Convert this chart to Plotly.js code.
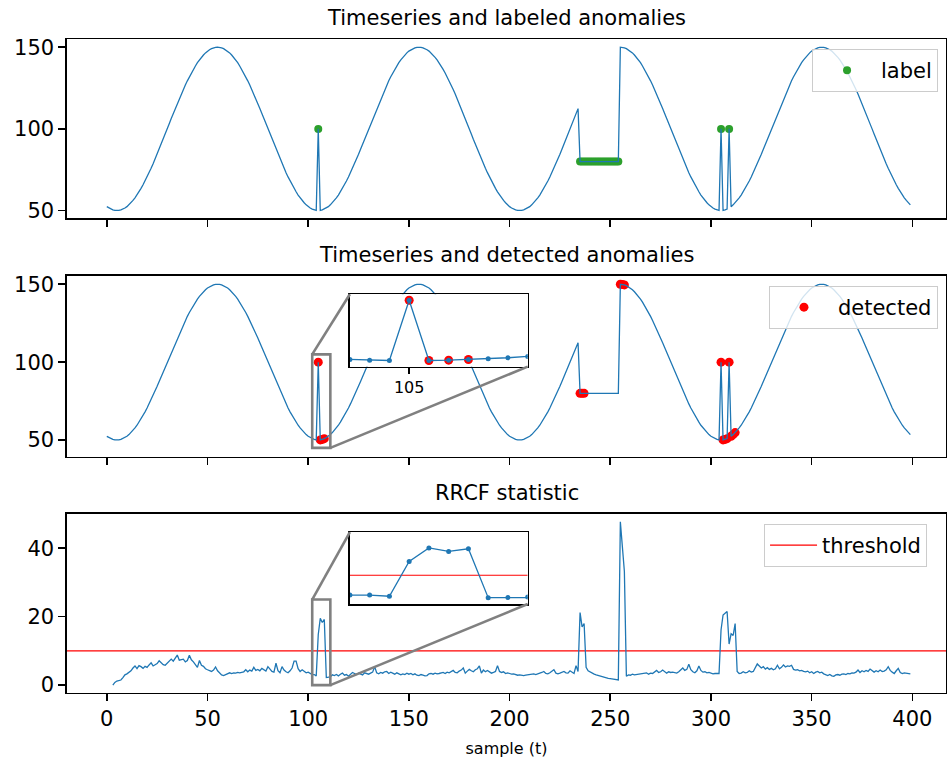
<!DOCTYPE html>
<html><head><meta charset="utf-8">
<script src="https://cdn.plot.ly/plotly-3.0.1.min.js"></script>
<style>html,body{margin:0;padding:0;background:#fff}#chart{width:947px;height:760px}</style>
</head><body><div id="chart"></div>
<script>
// ---------------- data ----------------
const series = [
52.4,51.6,50.9,50.4,50.1,50.0,50.1,50.4,50.9,51.6,
52.4,53.5,54.8,56.2,57.8,59.5,61.5,63.6,65.8,68.1,
70.6,73.2,75.9,78.7,81.6,84.5,87.6,90.6,93.7,96.9,
100.0,103.1,106.3,109.4,112.4,115.5,118.4,121.3,124.1,126.8,
129.4,131.9,134.2,136.4,138.5,140.5,142.2,143.8,145.2,146.5,
147.6,148.4,149.1,149.6,149.9,150.0,149.9,149.6,149.1,148.4,
147.6,146.5,145.2,143.8,142.2,140.5,138.5,136.4,134.2,131.9,
129.4,126.8,124.1,121.3,118.4,115.5,112.4,109.4,106.3,103.1,
100.0,96.9,93.7,90.6,87.6,84.5,81.6,78.7,75.9,73.2,
70.6,68.1,65.8,63.6,61.5,59.5,57.8,56.2,54.8,53.5,
52.4,51.6,50.9,50.4,50.1,100.0,50.1,50.4,50.9,51.6,
52.4,53.5,54.8,56.2,57.8,59.5,61.5,63.6,65.8,68.1,
70.6,73.2,75.9,78.7,81.6,84.5,87.6,90.6,93.7,96.9,
100.0,103.1,106.3,109.4,112.4,115.5,118.4,121.3,124.1,126.8,
129.4,131.9,134.2,136.4,138.5,140.5,142.2,143.8,145.2,146.5,
147.6,148.4,149.1,149.6,149.9,150.0,149.9,149.6,149.1,148.4,
147.6,146.5,145.2,143.8,142.2,140.5,138.5,136.4,134.2,131.9,
129.4,126.8,124.1,121.3,118.4,115.5,112.4,109.4,106.3,103.1,
100.0,96.9,93.7,90.6,87.6,84.5,81.6,78.7,75.9,73.2,
70.6,68.1,65.8,63.6,61.5,59.5,57.8,56.2,54.8,53.5,
52.4,51.6,50.9,50.4,50.1,50.0,50.1,50.4,50.9,51.6,
52.4,53.5,54.8,56.2,57.8,59.5,61.5,63.6,65.8,68.1,
70.6,73.2,75.9,78.7,81.6,84.5,87.6,90.6,93.7,96.9,
100.0,103.1,106.3,109.4,112.4,80.0,80.0,80.0,80.0,80.0,
80.0,80.0,80.0,80.0,80.0,80.0,80.0,80.0,80.0,80.0,
80.0,80.0,80.0,80.0,80.0,150.0,149.9,149.6,149.1,148.4,
147.6,146.5,145.2,143.8,142.2,140.5,138.5,136.4,134.2,131.9,
129.4,126.8,124.1,121.3,118.4,115.5,112.4,109.4,106.3,103.1,
100.0,96.9,93.7,90.6,87.6,84.5,81.6,78.7,75.9,73.2,
70.6,68.1,65.8,63.6,61.5,59.5,57.8,56.2,54.8,53.5,
52.4,51.6,50.9,50.4,50.1,100.0,50.1,50.4,50.9,100.0,
52.4,53.5,54.8,56.2,57.8,59.5,61.5,63.6,65.8,68.1,
70.6,73.2,75.9,78.7,81.6,84.5,87.6,90.6,93.7,96.9,
100.0,103.1,106.3,109.4,112.4,115.5,118.4,121.3,124.1,126.8,
129.4,131.9,134.2,136.4,138.5,140.5,142.2,143.8,145.2,146.5,
147.6,148.4,149.1,149.6,149.9,150.0,149.9,149.6,149.1,148.4,
147.6,146.5,145.2,143.8,142.2,140.5,138.5,136.4,134.2,131.9,
129.4,126.8,124.1,121.3,118.4,115.5,112.4,109.4,106.3,103.1,
100.0,96.9,93.7,90.6,87.6,84.5,81.6,78.7,75.9,73.2,
70.6,68.1,65.8,63.6,61.5,59.5,57.8,56.2,54.8,53.5
];

const rrcfStart = 3;
const rrcfValues = [
0.0,0.8,1.2,1.4,1.5,2.2,3.0,3.3,3.8,4.2,
5.0,5.6,4.8,5.7,5.4,4.9,5.5,5.2,5.9,6.5,
5.6,5.9,6.3,7.1,6.5,6.0,5.8,6.4,7.3,7.6,
7.0,7.8,8.8,7.3,7.5,7.6,6.8,7.2,8.7,7.4,
6.8,6.0,5.2,7.2,5.8,5.5,4.8,4.5,4.3,4.0,
4.4,5.3,4.2,3.6,3.0,2.8,3.0,3.3,3.6,3.4,
3.6,3.5,3.7,3.6,3.8,3.9,4.5,3.9,4.4,4.1,
5.2,4.3,4.6,4.2,4.9,4.4,4.1,5.4,4.7,4.0,
3.8,6.4,4.2,3.6,5.4,4.4,3.9,3.6,4.2,5.0,
7.0,7.0,4.8,4.0,4.5,4.0,3.6,3.8,3.5,3.1,
3.1,2.7,14.8,19.5,18.3,19.2,2.2,2.3,2.4,3.0,
2.8,3.1,2.7,3.2,3.5,2.9,3.1,2.6,3.3,3.7,
3.4,3.1,3.5,3.3,3.0,3.6,3.4,3.2,3.5,3.8,
5.4,3.6,3.3,3.7,3.5,3.9,4.0,3.4,3.8,3.5,
3.2,3.6,3.4,3.0,3.3,3.1,3.5,3.2,3.4,3.0,
3.3,2.9,2.8,3.1,2.9,2.7,2.8,3.3,3.4,3.2,
3.5,3.3,3.4,3.6,3.7,3.4,3.8,3.6,3.9,4.3,
3.7,3.6,4.1,4.4,5.0,3.5,4.1,4.6,4.2,3.9,
4.5,4.8,5.6,3.5,4.4,3.9,4.3,3.8,3.5,3.7,
4.0,5.7,4.0,3.7,3.9,3.4,3.6,3.4,3.2,3.3,
3.1,2.9,3.0,2.8,2.8,2.9,3.0,2.9,3.2,3.3,
3.1,3.4,3.5,3.7,4.0,3.4,3.3,3.6,4.0,4.5,
3.5,3.3,3.5,3.8,4.0,3.6,3.5,4.2,3.8,3.4,
5.7,4.0,21.2,17.0,18.0,5.2,4.2,3.8,3.4,3.2,
3.0,2.8,2.6,2.5,2.3,2.2,2.0,1.9,1.8,1.7,
1.6,1.5,47.7,40.4,33.2,2.6,3.0,2.9,3.2,3.0,
3.1,3.2,3.1,3.3,3.4,3.6,3.2,3.5,3.4,3.8,
4.3,3.7,3.9,4.4,3.8,3.5,3.9,3.7,3.8,3.6,
3.5,3.9,4.4,5.0,4.3,4.6,6.1,4.5,3.9,3.6,
4.2,5.6,4.3,3.8,3.9,3.6,3.7,3.5,3.3,3.4,
3.3,3.4,16.1,20.5,21.0,21.5,12.0,15.0,14.5,18.0,
4.0,3.4,3.5,3.9,3.6,3.7,4.2,3.8,4.0,4.9,
6.2,5.6,5.0,5.4,4.7,5.1,4.6,4.9,4.5,4.8,
5.8,4.8,5.2,5.9,5.3,5.6,5.5,5.8,4.6,4.4,
4.5,4.2,4.3,4.0,3.9,4.1,3.6,3.9,3.4,3.8,
4.0,3.6,3.8,3.3,3.0,2.8,3.1,2.7,2.6,3.0,
3.1,2.9,3.2,3.3,3.1,3.4,3.3,3.6,3.5,3.8,
4.4,3.7,4.2,3.9,4.3,4.0,4.7,4.1,3.8,4.2,
3.9,4.4,4.0,4.1,4.5,5.4,4.3,3.8,3.4,4.2,
4.9,3.7,3.4,3.6,3.5,3.4,3.3
];

const labeledIdx = [105,235,236,237,238,239,240,241,242,243,244,245,246,247,248,249,250,251,252,253,254,305,309];
const detectedIdx = [105,106,107,108,235,236,237,255,256,257,305,306,307,308,309,310,311,312];
const threshold = 10;

const xTickVals = [0,50,100,150,200,250,300,350,400];
const ySeriesTicks = [50,100,150];
const yRrcfTicks = [0,20,40];
const insetTickVals = [105];
const insetTickText = ['105'];
const panelTitles = ['Timeseries and labeled anomalies','Timeseries and detected anomalies','RRCF statistic'];
const legendNames = ['label','detected','threshold'];
const xTitle = 'sample (t)';

// ---------------- derived ----------------
const t = series.map((_, i) => i);
const rrcfT = rrcfValues.map((_, i) => i + rrcfStart);
const labelY = labeledIdx.map(i => series[i]);
const detectedY = detectedIdx.map(i => series[i]);

// ---------------- geometry / style ----------------
const FONT = 'DejaVu Sans';
const FS = 21;
const BLUE = '#1f77b4', GREEN = '#2ca02c', RED = '#ff0000', GRAY = '#808080';
const xRange = [-19.76, 416.7];
const yRanges = [[45.3, 154.8], [39.3, 155.3], [-2.2, 50]];
const yDomains = [[0.7259, 0.9995], [0.3613, 0.6376], [0.0005, 0.2737]];
const zoomX = [102, 111];
const zoomY2 = [45, 105];
const zoomY3 = [0, 25];
const insetBox2 = {x: [120.7, 209], y: [97.1, 143.6]};
const insetBox3 = {x: [120.7, 209], y: [23.7, 44.7]};

function px(x) { return (x - xRange[0]) / (xRange[1] - xRange[0]); }
function py(y, p) { const r = yRanges[p], d = yDomains[p]; return d[0] + (y - r[0]) / (r[1] - r[0]) * (d[1] - d[0]); }

const axisCommon = {
  showline: true, mirror: true, linecolor: '#000', linewidth: 1.6,
  ticks: 'outside', ticklen: 7, tickwidth: 1.6, tickcolor: '#000',
  showgrid: false, zeroline: false,
  tickfont: {family: FONT, size: FS, color: '#000'}
};

const LW = 1.3;
const traces = [
  // panel 1
  {x: labeledIdx, y: labelY, type: 'scatter', mode: 'markers', name: legendNames[0],
   marker: {color: GREEN, size: 8}, xaxis: 'x', yaxis: 'y', legend: 'legend'},
  {x: t, y: series, type: 'scatter', mode: 'lines', line: {color: BLUE, width: LW},
   showlegend: false, xaxis: 'x', yaxis: 'y'},
  // panel 2
  {x: detectedIdx, y: detectedY, type: 'scatter', mode: 'markers', name: legendNames[1],
   marker: {color: RED, size: 9}, xaxis: 'x2', yaxis: 'y2', legend: 'legend2'},
  {x: t, y: series, type: 'scatter', mode: 'lines', line: {color: BLUE, width: LW},
   showlegend: false, xaxis: 'x2', yaxis: 'y2'},
  // panel 3
  {x: xRange, y: [threshold, threshold], type: 'scatter', mode: 'lines', name: legendNames[2],
   line: {color: RED, width: 1.2}, xaxis: 'x3', yaxis: 'y3', legend: 'legend3'},
  {x: rrcfT, y: rrcfValues, type: 'scatter', mode: 'lines', line: {color: BLUE, width: LW},
   showlegend: false, xaxis: 'x3', yaxis: 'y3'},
  // inset in panel 2
  {x: detectedIdx, y: detectedY, type: 'scatter', mode: 'markers', marker: {color: RED, size: 9},
   showlegend: false, xaxis: 'x4', yaxis: 'y4'},
  {x: t, y: series, type: 'scatter', mode: 'lines+markers', line: {color: BLUE, width: LW},
   marker: {color: BLUE, size: 5}, showlegend: false, xaxis: 'x4', yaxis: 'y4'},
  // inset in panel 3
  {x: zoomX, y: [threshold, threshold], type: 'scatter', mode: 'lines', line: {color: RED, width: 1.2},
   showlegend: false, xaxis: 'x5', yaxis: 'y5'},
  {x: rrcfT, y: rrcfValues, type: 'scatter', mode: 'lines+markers', line: {color: BLUE, width: LW},
   marker: {color: BLUE, size: 5}, showlegend: false, xaxis: 'x5', yaxis: 'y5'}
];

function legendCfg(x, y, iw) {
  return {x: x, y: y, xanchor: 'left', yanchor: 'top', bgcolor: 'rgba(255,255,255,0.8)',
    bordercolor: '#cccccc', borderwidth: 1, font: {family: FONT, size: FS, color: '#000'},
    itemwidth: iw};
}

const shapes = [];
function addZoom(xa, ya, zy, box) {
  shapes.push({type: 'rect', xref: xa, yref: ya, x0: zoomX[0], x1: zoomX[1], y0: zy[0], y1: zy[1],
    line: {color: GRAY, width: 2.6}, fillcolor: 'rgba(0,0,0,0)', layer: 'above'});
  shapes.push({type: 'line', xref: xa, yref: ya, x0: zoomX[0], y0: zy[1], x1: box.x[0], y1: box.y[1],
    line: {color: GRAY, width: 2.6}, layer: 'above'});
  shapes.push({type: 'line', xref: xa, yref: ya, x0: zoomX[1], y0: zy[0], x1: box.x[1], y1: box.y[0],
    line: {color: GRAY, width: 2.6}, layer: 'above'});
}
addZoom('x2', 'y2', zoomY2, insetBox2);
addZoom('x3', 'y3', zoomY3, insetBox3);

const annotations = panelTitles.map((txt, i) => ({
  text: txt, xref: 'paper', yref: 'paper', x: 0.5, y: yDomains[i][1],
  xanchor: 'center', yanchor: 'bottom', yshift: 7, showarrow: false,
  font: {family: FONT, size: FS, color: '#000'}
}));

const insetAxis = {showline: true, mirror: true, linecolor: '#000', linewidth: 1.6,
  showgrid: false, zeroline: false};

const layout = {
  width: 947, height: 760,
  margin: {l: 67, r: 1, t: 39, b: 67},
  paper_bgcolor: '#fff', plot_bgcolor: '#fff',
  font: {family: FONT, color: '#000'},
  xaxis: Object.assign({}, axisCommon, {domain: [0, 1], range: xRange, anchor: 'y', tickvals: xTickVals, showticklabels: false}),
  yaxis: Object.assign({}, axisCommon, {domain: yDomains[0], range: yRanges[0], anchor: 'x', tickvals: ySeriesTicks}),
  xaxis2: Object.assign({}, axisCommon, {domain: [0, 1], range: xRange, anchor: 'y2', tickvals: xTickVals, showticklabels: false}),
  yaxis2: Object.assign({}, axisCommon, {domain: yDomains[1], range: yRanges[1], anchor: 'x2', tickvals: ySeriesTicks}),
  xaxis3: Object.assign({}, axisCommon, {domain: [0, 1], range: xRange, anchor: 'y3', tickvals: xTickVals,
    title: {text: xTitle, font: {family: FONT, size: 16, color: '#000'}, standoff: 12}}),
  yaxis3: Object.assign({}, axisCommon, {domain: yDomains[2], range: yRanges[2], anchor: 'x3', tickvals: yRrcfTicks}),
  xaxis4: Object.assign({}, insetAxis, {domain: [px(insetBox2.x[0]), px(insetBox2.x[1])], range: zoomX, anchor: 'y4',
    tickvals: insetTickVals, ticktext: insetTickText, ticks: 'outside', ticklen: 6, tickwidth: 1.6, tickcolor: '#000',
    tickfont: {family: FONT, size: 16, color: '#000'}}),
  yaxis4: Object.assign({}, insetAxis, {domain: [py(insetBox2.y[0], 1), py(insetBox2.y[1], 1)], range: zoomY2, anchor: 'x4',
    showticklabels: false, ticks: ''}),
  xaxis5: Object.assign({}, insetAxis, {domain: [px(insetBox3.x[0]), px(insetBox3.x[1])], range: zoomX, anchor: 'y5',
    showticklabels: false, ticks: ''}),
  yaxis5: Object.assign({}, insetAxis, {domain: [py(insetBox3.y[0], 2), py(insetBox3.y[1], 2)], range: zoomY3, anchor: 'x5',
    showticklabels: false, ticks: ''}),
  legend: legendCfg(0.8476, 0.9847, 58),
  legend2: legendCfg(0.7986, 0.6223, 58),
  legend3: legendCfg(0.793, 0.2584, 47),
  shapes: shapes,
  annotations: annotations,
  showlegend: true
};

Plotly.newPlot('chart', traces, layout, {displayModeBar: false, staticPlot: true});
</script>
</body></html>
